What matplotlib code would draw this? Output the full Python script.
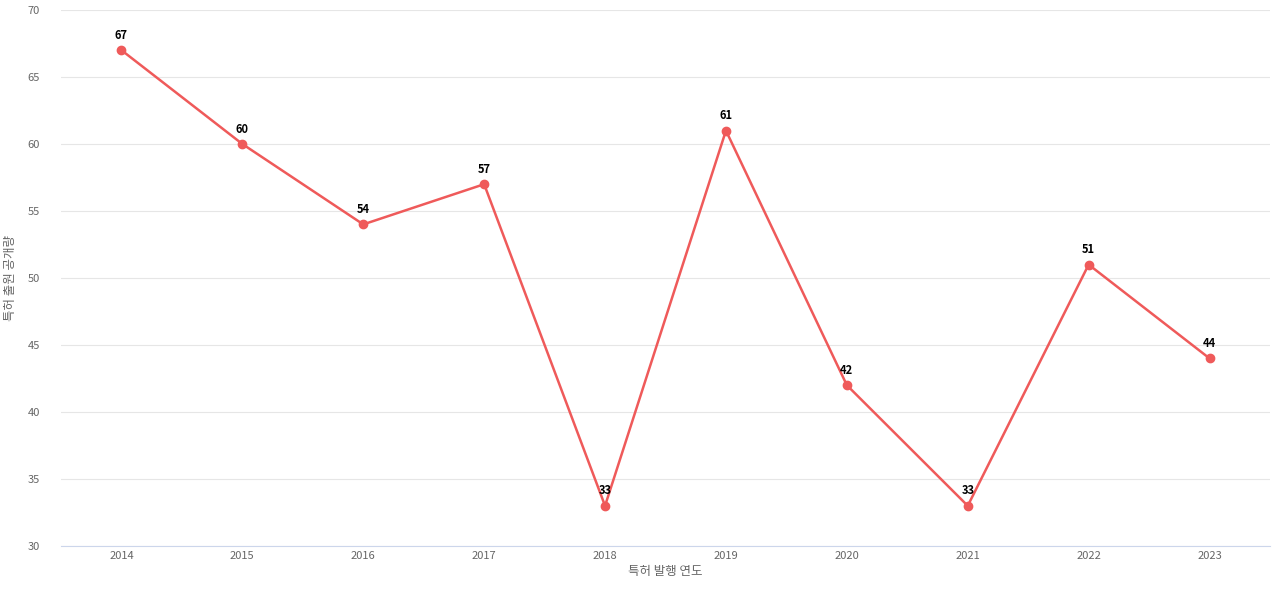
import matplotlib
matplotlib.use("Agg")
import matplotlib.pyplot as plt

years = ["2014","2015","2016","2017","2018","2019","2020","2021","2022","2023"]
counts = [67, 60, 54, 57, 33, 61, 42, 33, 51, 44]

plt.rcParams["font.family"] = "Noto Sans CJK KR"
fig = plt.figure(figsize=(12.8, 6), dpi=100)
ax = fig.add_axes([61/1280, 54/600, 1209/1280, 536/600])
x = list(range(len(years)))
ax.plot(x, counts, color="#ef5a5a", lw=1.8, marker="o", ms=6, zorder=3)
for xi, v in zip(x, counts):
    ax.annotate(str(v), (xi, v), xytext=(0, 6), textcoords="offset points",
                ha="center", va="bottom", fontsize=8, fontweight="bold", color="black")
ax.set_xlim(-0.5, len(years) - 0.5)
ax.set_ylim(30, 70)
ax.set_yticks(range(30, 71, 5))
ax.set_xticks(x)
ax.set_xticklabels(years)
ax.grid(axis="y", color="#e6e6e6", lw=0.8)
ax.set_axisbelow(True)
for s in ["top", "right", "left"]:
    ax.spines[s].set_visible(False)
ax.spines["bottom"].set_color("#ccd6eb")
ax.tick_params(axis="both", length=0, labelsize=8, colors="#666666")
ax.tick_params(axis="y", pad=15)
ax.set_xlabel("특허 발행 연도", fontsize=9, color="#666666", labelpad=3)
ax.set_ylabel("특허 출원 공개량", fontsize=9, color="#666666", labelpad=8)
fig.savefig("out.png", dpi=100)
